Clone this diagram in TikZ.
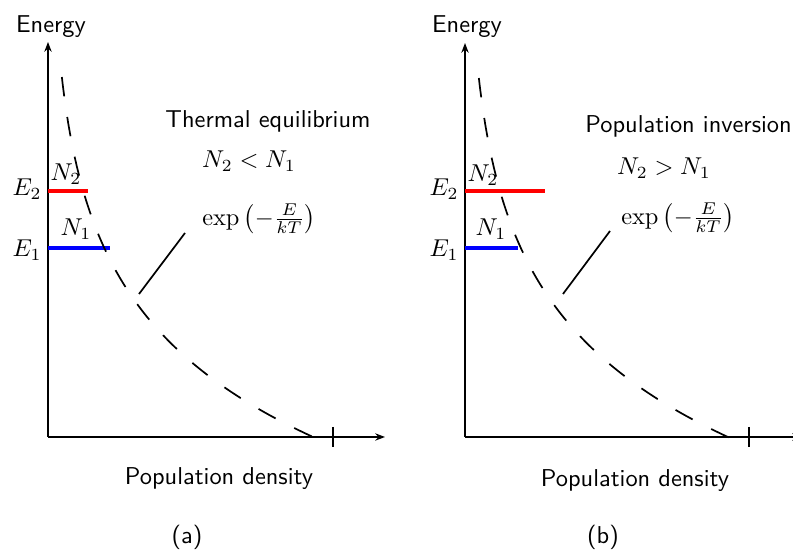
\documentclass[tikz,border=0pt]{standalone}
\usetikzlibrary{arrows.meta}
\begin{document}
\begin{tikzpicture}[x=0.41pt,y=-0.41pt,
  axis/.style={line width=0.8pt,-{Stealth[length=4pt,width=3pt]}},
  tickmark/.style={line width=0.6pt},
  level/.style={line width=1.3pt},
  curve/.style={line width=0.7pt,dash pattern=on 8pt off 8.55pt},
  leader/.style={line width=0.7pt},
  txt/.style={font=\sffamily,inner sep=0pt},
  mth/.style={inner sep=0pt}]
\useasboundingbox (0,0) rectangle (793,554);
% ---------- panel (a)
\coordinate (Oa) at (48,437);
\coordinate (Ya) at (48,42);
\coordinate (Xa) at (385,437);
\draw[axis] (Oa) -- (Ya);
\draw[axis] (Oa) -- (Xa);
\coordinate (Ta1) at (333,427);
\coordinate (Ta2) at (333,447);
\draw[tickmark] (Ta1) -- (Ta2);
\coordinate (R1a) at (48,191); \coordinate (R2a) at (88,191);
\coordinate (B1a) at (48,248); \coordinate (B2a) at (110,248);
\draw[red,level] (R1a) -- (R2a);
\draw[blue,level] (B1a) -- (B2a);
\draw[curve] plot[domain=0:360,samples=120] ({48+265*exp(-(360-\x)/122)},{77+\x});
\coordinate (La1) at (185,233); \coordinate (La2) at (139,294);
\draw[leader] (La1) -- (La2);
\node[txt,anchor=base] (ena) at (51,33) {Energy};
\node[mth] (e2a) at (27,189) {$E_2$};
\node[mth] (e1a) at (27,250) {$E_1$};
\node[mth] (n2a) at (66,174) {$N_2$};
\node[mth] (n1a) at (76,229) {$N_1$};
\node[txt,anchor=base] (tha) at (268,128) {Thermal equilibrium};
\node[mth,anchor=base] (ina) at (249,168) {$N_2 < N_1$};
\node[mth] (exa) at (259,219) {$\exp\left(-\frac{E}{kT}\right)$};
\node[txt,anchor=base] (pda) at (219,485) {Population density};
\node[txt] (capa) at (187,537) {(a)};
% ---------- panel (b)
\coordinate (Ob) at (465,437);
\coordinate (Yb) at (465,43);
\coordinate (Xb) at (802,437);
\draw[axis] (Ob) -- (Yb);
\draw[axis] (Ob) -- (Xb);
\coordinate (Tb1) at (749,427);
\coordinate (Tb2) at (749,447);
\draw[tickmark] (Tb1) -- (Tb2);
\coordinate (R1b) at (465,191); \coordinate (R2b) at (545,191);
\coordinate (B1b) at (465,248); \coordinate (B2b) at (518,248);
\draw[red,level] (R1b) -- (R2b);
\draw[blue,level] (B1b) -- (B2b);
\draw[curve] plot[domain=0:360,samples=120] ({465+265*exp(-(360-\x)/122)},{78+\x});
\coordinate (Lb1) at (610,231); \coordinate (Lb2) at (563,294);
\draw[leader] (Lb1) -- (Lb2);
\node[txt,anchor=base] (enb) at (467,33) {Energy};
\node[mth] (e2b) at (444,189) {$E_2$};
\node[mth] (e1b) at (444,250) {$E_1$};
\node[mth] (n2b) at (483,175) {$N_2$};
\node[mth] (n1b) at (491,229) {$N_1$};
\node[txt,anchor=base west] (thb) at (585,133) {Population inversion};
\node[mth,anchor=base] (inb) at (664,175) {$N_2 > N_1$};
\node[mth] (exb) at (678,218) {$\exp\left(-\frac{E}{kT}\right)$};
\node[txt,anchor=base] (pdb) at (635,487) {Population density};
\node[txt] (capb) at (603,537) {(b)};
\end{tikzpicture}
\end{document}
